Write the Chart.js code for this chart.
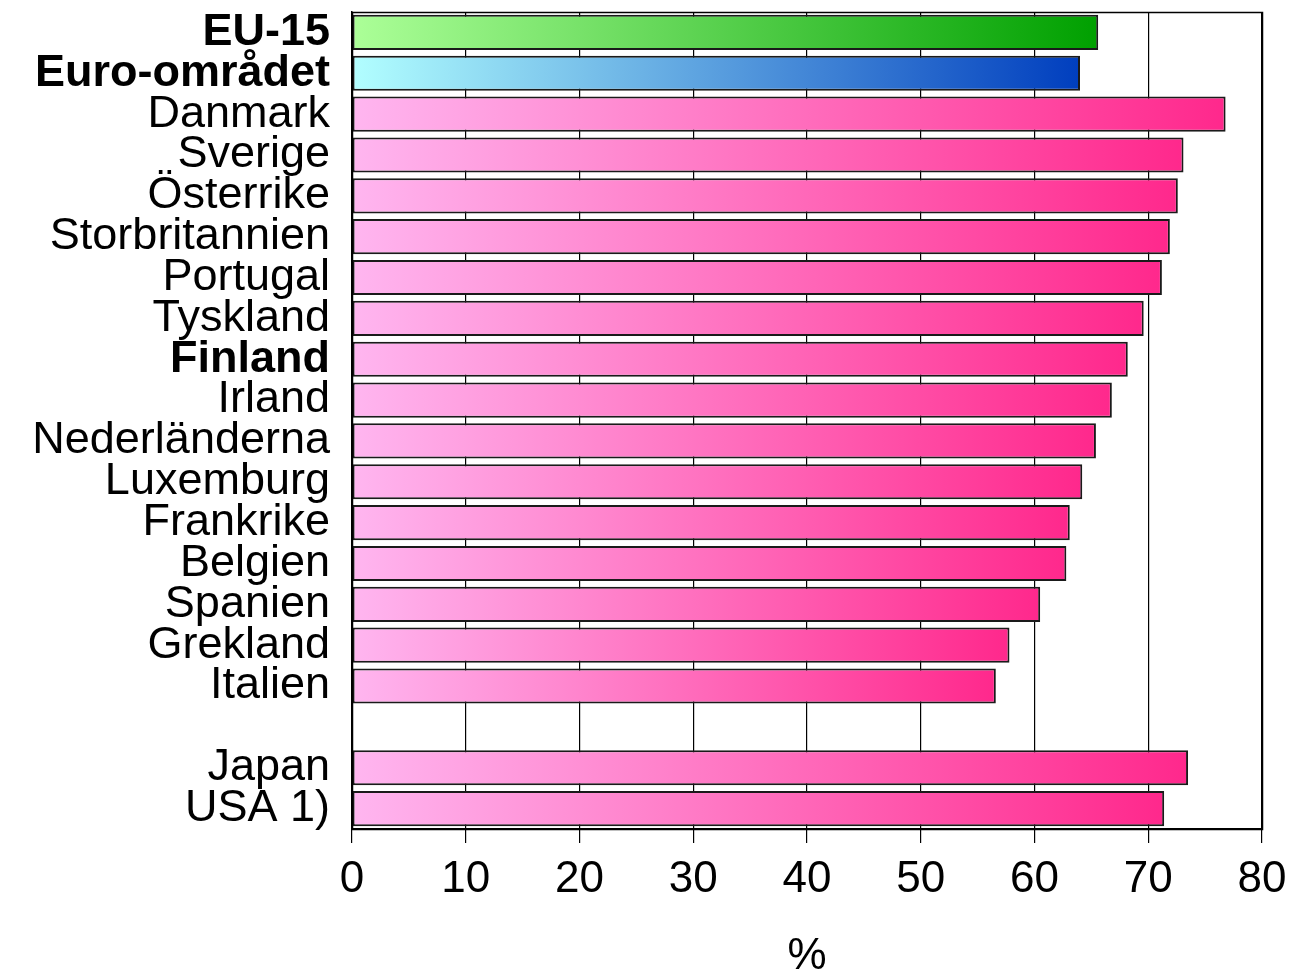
<!DOCTYPE html>
<html>
<head>
<meta charset="utf-8">
<script src="https://cdn.jsdelivr.net/npm/chart.js@4/dist/chart.umd.min.js"></script>
<style>
  html, body { margin: 0; padding: 0; background: #fff; }
  #wrap { width: 1294px; height: 974px; }
</style>
</head>
<body>
<div id="wrap"><canvas id="myChart"></canvas></div>
<script>
// categories, top to bottom ('' is the empty row before Japan)
const countries = ['EU-15', 'Euro-området', 'Danmark', 'Sverige', 'Österrike', 'Storbritannien',
    'Portugal', 'Tyskland', 'Finland', 'Irland', 'Nederländerna', 'Luxemburg', 'Frankrike',
    'Belgien', 'Spanien', 'Grekland', 'Italien', '', 'Japan', 'USA 1)']
const rates = [65.6, 64.0, 76.8, 73.1, 72.6, 71.9, 71.2, 69.6, 68.2, 66.8, 65.4, 64.2, 63.1,
    62.8, 60.5, 57.8, 56.6, null, 73.5, 71.4]
const boldLabels = ['EU-15', 'Euro-området', 'Finland']
const xTicks = [0, 10, 20, 30, 40, 50, 60, 70, 80]

const gradients = {
    'EU-15': ['rgb(172, 255, 152)', 'rgb(0, 160, 0)'],
    'Euro-området': ['rgb(178, 255, 255)', 'rgb(0, 62, 190)'],
    other: ['rgb(255, 182, 240)', 'rgb(255, 40, 140)']
}

function barFill(context) {
    const chart = context.chart
    const x = chart.scales.x
    const label = countries[context.dataIndex]
    const cols = gradients[label] || gradients.other
    if (!x || context.raw == null) return cols[1]
    const x0 = x.getPixelForValue(0)
    const x1 = x.getPixelForValue(context.raw)
    if (!isFinite(x0) || !isFinite(x1) || x1 <= x0) return cols[1]
    const g = chart.ctx.createLinearGradient(x0, 0, x1, 0)
    g.addColorStop(0, cols[0])
    g.addColorStop(1, cols[1])
    return g
}

// frame round the plot area
const frame = {
    id: 'frame',
    afterDatasetsDraw(chart) {
        const a = chart.chartArea
        const c = chart.ctx
        c.save()
        c.strokeStyle = '#000'
        c.lineWidth = 1.5
        c.strokeRect(a.left + 0.5, a.top + 0.5, a.right - a.left, a.bottom - a.top)
        c.restore()
    }
}

const ctx = document.getElementById('myChart')
new Chart(ctx, {
    type: 'bar',
    data: {
        labels: countries,
        datasets: [{
            data: rates,
            backgroundColor: barFill,
            borderColor: '#1a1a1a',
            borderWidth: 2,
            borderSkipped: false,
            barPercentage: 0.86,
            categoryPercentage: 1
        }]
    },
    options: {
        indexAxis: 'y',
        responsive: true,
        maintainAspectRatio: false,
        animation: false,
        layout: { padding: { top: 12, right: 32, bottom: 0, left: 0 } },
        plugins: {
            legend: { display: false },
            tooltip: { enabled: false }
        },
        scales: {
            x: {
                min: 0,
                max: 80,
                afterBuildTicks: function (scale) {
                    scale.ticks = xTicks.map(v => ({ value: v }))
                },
                afterFit: function (scale) {
                    scale.height = 145
                    scale.paddingLeft = 0
                    scale.paddingRight = 0
                },
                ticks: {
                    color: '#000',
                    padding: 10,
                    font: { family: 'Liberation Sans, Arial, sans-serif', size: 44 }
                },
                grid: { color: '#000', lineWidth: 1.2, tickLength: 14, tickColor: '#000' },
                border: { color: '#000', width: 1.5 },
                title: {
                    display: true,
                    text: '%',
                    color: '#000',
                    padding: 0,
                    font: { family: 'Liberation Sans, Arial, sans-serif', size: 44, lineHeight: 0.8 }
                }
            },
            y: {
                afterFit: function (scale) {
                    scale.width = 352
                    scale.paddingTop = 0
                    scale.paddingBottom = 0
                },
                ticks: {
                    autoSkip: false,
                    color: '#000',
                    padding: 22,
                    font: function (c) {
                        const lab = countries[c.index]
                        return {
                            family: 'Liberation Sans, Arial, sans-serif',
                            size: 45,
                            weight: boldLabels.includes(lab) ? 'bold' : 'normal'
                        }
                    }
                },
                grid: { display: false, drawTicks: false },
                border: { display: true, color: '#000', width: 1.5 }
            }
        }
    },
    plugins: [frame]
})
</script>
</body>
</html>
